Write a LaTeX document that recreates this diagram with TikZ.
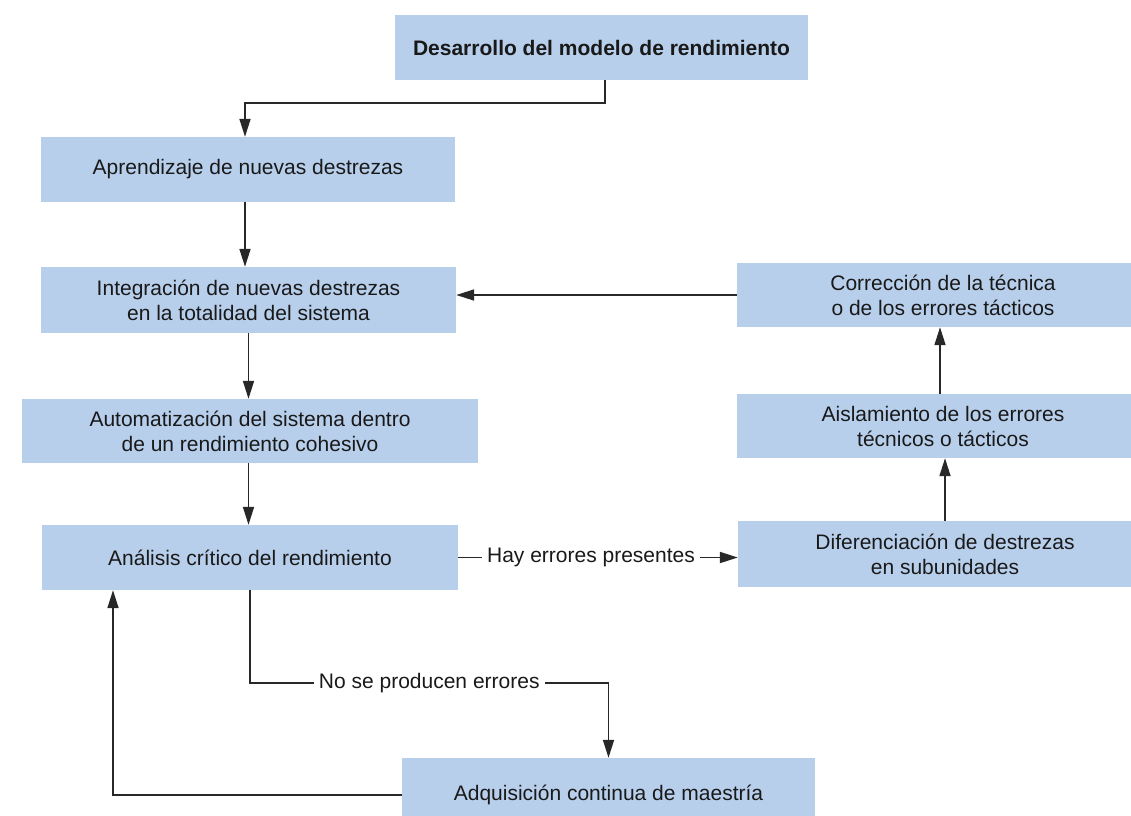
\documentclass[tikz,border=0pt]{standalone}
\usepackage{fontspec}
\setmainfont{Liberation Sans}
\usetikzlibrary{arrows.meta}
\definecolor{boxblue}{RGB}{184,207,236}
\definecolor{linegray}{RGB}{40,40,40}
\tikzset{
  stage/.style={fill=boxblue, draw=none, align=center, inner sep=0pt,
    minimum width=#1, minimum height=65pt,
    font=\fontsize{21}{25}\selectfont, text=black!90},
  stage/.default=414pt,
  arr/.style={draw=linegray, line width=1.7pt,
    -{Triangle[length=18pt,width=11pt]}},
  lbl/.style={fill=white, inner xsep=5pt, inner ysep=2pt,
    font=\fontsize{21}{25}\selectfont, text=black!90}
}
\begin{document}
\begin{tikzpicture}[x=1pt,y=-1pt]
  \useasboundingbox (0,0) rectangle (1131,815);
  \fill[white] (0,0) rectangle (1131,815);

  % left column
  \node[stage=413pt, font=\fontsize{21}{25}\selectfont\bfseries] (top) at (601.5,47.5) {Desarrollo del modelo de rendimiento};
  \node[stage] (apr) at (248,169.5) {Aprendizaje de nuevas destrezas};
  \node[stage=415pt, minimum height=66pt] (int) at (248.5,300) {Integración de nuevas destrezas\\en la totalidad del sistema};
  \node[stage=456pt, minimum height=64pt] (aut) at (250,431) {Automatización del sistema dentro\\de un rendimiento cohesivo};
  \node[stage=416pt] (ana) at (250,557.5) {Análisis crítico del rendimiento};
  \node[stage=413pt, minimum height=74pt] (adq) at (608.5,795) {Adquisición continua de maestría};

  % right column
  \node[stage=412pt, minimum height=64pt] (cor) at (943,295) {Corrección de la técnica\\o de los errores tácticos};
  \node[stage=412pt, minimum height=64pt] (ais) at (943,426) {Aislamiento de los errores\\técnicos o tácticos};
  \node[stage=414pt, minimum height=66pt] (dif) at (945,554) {Diferenciación de destrezas\\en subunidades};

  % helper positions
  \coordinate (tb) at (605,103);
  \coordinate (nb) at (250,683);
  \coordinate (lp) at (113,0);

  % main sequence
  \draw[arr] (top.south -| tb) -- (tb) -| ([xshift=-3pt]apr.north);
  \draw[arr] ([xshift=-3pt]apr.south) -- ([xshift=-3pt]apr.south |- int.north);
  \draw[arr] (int.south) -- (int.south |- aut.north);
  \draw[arr] (aut.south -| int.south) -- (ana.north -| int.south);

  % error branch
  \draw[arr] (ana.east) -- node[lbl, pos=0.475] {Hay errores presentes} (ana.east -| dif.west);
  \draw[arr] (dif.north) -- (dif.north |- ais.south);
  \draw[arr] ([xshift=-3pt]ais.north) -- ([xshift=-3pt]ais.north |- cor.south);
  \draw[arr] (cor.west) -- (cor.west -| int.east);

  % no-error branch and loop back
  \draw[arr] (ana.south) |- node[lbl, pos=0.75] {No se producen errores} (adq.north |- nb) -- (adq.north);
  \draw[arr] (adq.west) -| (ana.south -| lp);
\end{tikzpicture}
\end{document}
